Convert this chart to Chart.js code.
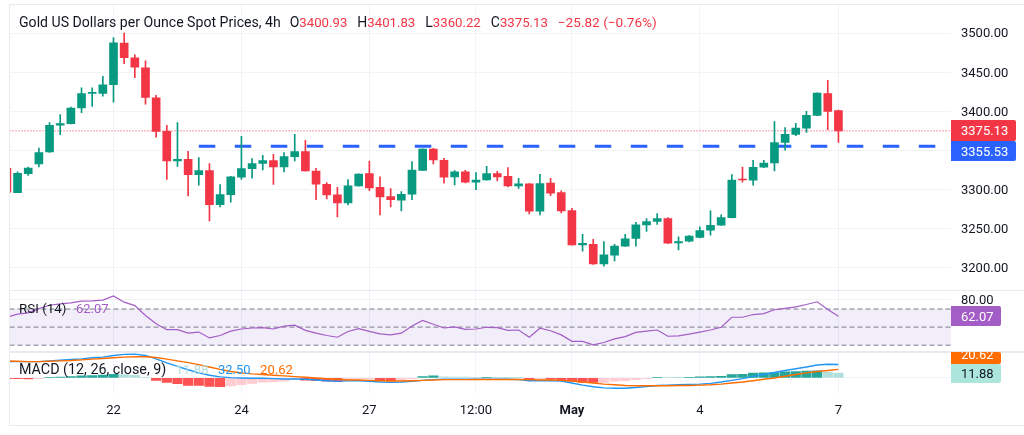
<!DOCTYPE html>
<html>
<head>
<meta charset="utf-8">
<title>Gold spot 4h</title>
<script src="https://cdn.jsdelivr.net/npm/chart.js@4"></script>
<style>
  html, body { margin: 0; padding: 0; background: #fff; }
  #wrap { position: relative; width: 1024px; height: 435px; overflow: hidden; font-family: Roboto, sans-serif; color: #131722; }
  canvas { position: absolute; left: 0; top: 0; }
  .rule { position: absolute; background: #e9e9f0; }
  .legend { position: absolute; left: 19px; font-size: 14px; line-height: 16px; white-space: nowrap; }
  .legend span { margin-left: 9.5px; font-size: 13px; }
  .legend .ohlc { margin-left: 10px; font-size: 14px; }
  .legend b { font-weight: 400; font-size: 13.2px; color: #f23645; }
  .badge { position: absolute; left: 951px; box-sizing: border-box; padding-left: 10px; font-size: 13px; color: #fff; overflow: hidden; border-radius: 0 2px 2px 0; }
</style>
</head>
<body>
<div id="wrap">
  <canvas id="goldChart" width="1024" height="435"></canvas>
  <div class="rule" style="left:9px;top:4px;width:1015px;height:1px"></div>
  <div class="rule" style="left:9px;top:4px;width:1px;height:421px"></div>
  <div class="rule" style="left:9px;top:290px;width:1015px;height:1px"></div>
  <div class="rule" style="left:9px;top:351px;width:1015px;height:2px"></div>
  <div class="rule" style="left:9px;top:425px;width:1015px;height:1px"></div>

  <div class="legend" style="top:14px;font-size:14.1px">Gold US Dollars per Ounce Spot Prices, 4h<span class="ohlc" style="margin-left:9px">O<b>3400.93</b></span><span class="ohlc">H<b>3401.83</b></span><span class="ohlc">L<b>3360.22</b></span><span class="ohlc">C<b>3375.13</b></span><span style="color:#f23645;font-size:13.6px;margin-left:10px">−25.82 (−0.76%)</span></div>
  <div class="legend" style="top:301px;font-size:13.4px">RSI (14)<span style="color:#a45cc6">62.07</span></div>
  <div class="legend" style="top:361px;font-size:14.3px">MACD (12, 26, close, 9)<span style="color:#b2dfdb">11.88</span><span style="color:#2196f3">32.50</span><span style="color:#ff6d00">20.62</span></div>

  <div class="badge" style="top:120px;width:65px;height:21px;line-height:22px;background:#f23645">3375.13</div>
  <div class="badge" style="top:141px;width:65px;height:20px;line-height:21px;background:#2962ff">3355.53</div>
  <div class="badge" style="top:306px;width:50px;height:20px;line-height:21px;background:#a45cc6">62.07</div>
  <div class="badge" style="top:352px;width:50px;height:12px;line-height:5px;background:#ff6d00">20.62</div>
  <div class="badge" style="top:364px;width:50px;height:19px;line-height:20px;background:#ace5dc;color:#131722">11.88</div>
</div>

<script>
// ====== DATA ======
const opens = [3327.3,3296.2,3320.5,3332.8,3348.1,3382.5,3384.3,3404.3,3423,3423,3434.1,3487.2,3468.6,3455.8,3417.5,3374.5,3336.6,3338.8,3319.2,3324.3,3280.9,3293.7,3315.8,3326.9,3333.6,3337.1,3328.9,3342.2,3348.6,3323.8,3306.9,3293.2,3283,3304.7,3320.5,3303,3291.2,3286.4,3294.1,3324.7,3351.9,3337.5,3316.2,3322.6,3309.4,3312.3,3320.5,3317.1,3304.7,3307.3,3272.4,3308.5,3296.3,3273.3,3229.4,3229.9,3205.1,3216.2,3227.7,3237.5,3254.9,3259.2,3263.1,3231.9,3234.1,3238.8,3248.1,3254.5,3264.3,3313.6,3312,3328.6,3334,3360.5,3370.7,3378.7,3394.9,3422.7,3400.93];
const highs = [3327.3,3322.6,3328.9,3353.2,3385.6,3395.8,3405.5,3430.3,3430.3,3444.7,3494.5,3500,3472.4,3464.8,3420.5,3382.2,3385.6,3349,3340.9,3333.3,3306.5,3317.1,3368.1,3339.7,3343.9,3345.2,3347.3,3370.7,3363,3327.3,3309,3303,3312.8,3320.3,3336.6,3316.2,3301.4,3297.5,3335.8,3352.2,3352.8,3340,3324.4,3324.7,3321.8,3329.8,3323.5,3328.2,3314.5,3307.7,3319.6,3314.5,3298.3,3276.2,3243,3236.6,3233.7,3230.2,3243,3258.3,3263.1,3269.4,3264.3,3239.6,3241.4,3252.3,3272.8,3267.7,3319.2,3328.9,3337.5,3337.5,3386.9,3379.2,3384.7,3400,3423.9,3439.6,3401.83];
const lows = [3296.6,3296,3318.3,3328.9,3347.7,3370.3,3384.1,3398.4,3406.4,3419.6,3411.9,3460.9,3443.1,3409.4,3367.2,3312.9,3329.8,3291.9,3305.6,3260,3277.9,3283.9,3313.2,3314.5,3325.1,3306.8,3322.6,3336.6,3323.6,3287.3,3288.1,3265.1,3280.4,3304.4,3298.8,3267.7,3277.9,3272.8,3287.3,3324.5,3332.8,3308.1,3305.9,3308.5,3300.1,3312,3311,3303.4,3301.4,3268.9,3267.7,3292.4,3270.2,3229,3221.3,3204.3,3202.2,3209,3227.4,3227.7,3246.5,3255.4,3231.1,3223,3233.2,3238.3,3241.8,3254.1,3263.8,3309.4,3305.6,3328.2,3323.8,3350.3,3369,3373.2,3394.7,3376.7,3360.22];
const closes = [3296.6,3320.9,3327.7,3347.3,3382.2,3384.3,3404.3,3422.7,3424.3,3434.1,3487.8,3468.6,3456.6,3417.9,3374.5,3336.6,3338.8,3319.2,3324.3,3280.9,3293.7,3316.2,3326.9,3333.3,3337.1,3328.9,3342.2,3348.6,3323.8,3306.9,3293.2,3283,3304.7,3320,3302.1,3290.6,3287.3,3294.1,3325.1,3351.9,3337.9,3315.8,3322.6,3309.4,3312.3,3320.5,3316.2,3304.7,3307.3,3272.4,3307.7,3295.4,3272.8,3229.4,3231.2,3205.1,3216.6,3227.7,3237,3254.9,3259.2,3263.1,3231.5,3233.7,3240.5,3247.7,3254.5,3264.3,3312.3,3312.3,3328.6,3334,3360.1,3370.7,3378.7,3394.9,3423.4,3400,3375.13];
const rsiValues = [60.9,64.3,65.8,70.4,74.2,75.7,76.9,78.8,79.1,79.9,84.5,77.6,73.8,62.8,53.6,47.1,47.1,43.3,44.5,38,40.7,45.6,47.9,49,49.4,47.9,51,52.1,46.4,43.3,40.7,38.8,45.2,48.3,45.2,42.6,41.4,43.3,51.3,57.4,53.2,49,50.2,47.5,47.9,49.8,49.4,46.4,46.8,38.8,48.7,46,41.4,34.2,34.2,30.4,33,36.9,39.5,44.1,45.6,46.8,39.9,40.3,42.2,44.5,46.8,49.8,60.9,60.9,63.9,65,69.2,70.8,72.3,75,78,69.6,62.07];
const macdValues = [39.5,39.5,39.5,39.5,41.2,42.8,44.4,46.1,48.6,50.2,54.3,56.8,57.6,54.3,46.1,36.2,28,19.8,12.3,6.6,2.5,0.8,0,-0.8,-0.8,-1.6,-2.5,-2.5,-3.3,-4.9,-6.6,-8.2,-6.6,-6.6,-8.2,-9.9,-10.7,-9.9,-8.2,-5.8,-4.1,-3.3,-3.3,-3.3,-3.3,-3.3,-3.3,-3.3,-4.1,-6.6,-6.6,-6.6,-7.4,-12.3,-17.3,-21.4,-23.9,-24.7,-24.7,-23,-20.6,-18.1,-17.3,-16.5,-15.6,-14.8,-13.2,-9.9,-5.8,-1.6,3.3,8.2,13.2,18.1,22.2,26.3,31.3,32.9,32.5];
const signalValues = [41.2,40.3,39.5,39.5,40.3,41.2,42,43.6,45.3,46.9,48.6,50.2,51,51,49.4,45.3,41.2,37,32.1,26.3,20.6,15.6,12.3,9.9,8.2,6.6,4.9,3.3,1.6,0,-1.6,-3.3,-4.9,-4.9,-5.8,-6.6,-7.4,-7.4,-6.6,-5.8,-4.9,-4.1,-4.1,-4.1,-3.7,-3.7,-3.7,-3.7,-3.7,-4.1,-4.9,-4.9,-5.8,-7.4,-9.9,-12.3,-14.8,-16.5,-18.1,-18.9,-18.9,-18.9,-18.9,-18.1,-18.1,-17.3,-16.5,-14.8,-12.3,-9.9,-6.6,-3.3,0,4.1,8.2,12.3,15.6,18.1,20.62];
const histValues = [-1.5,-2,-2.3,-1.5,1.5,2,3.5,5,6,7,8.5,8,6.5,1.5,-6,-11,-14,-18,-18.2,-20.6,-20.8,-19,-16.5,-13,-10,-9.8,-8,-4,-5.5,-6.5,-8,-9,-3,-2.5,-2,-6.5,-7,-5.5,-2.5,3,5,2.5,2.3,2.1,1,1.5,0.5,0.3,0.2,-6,-2.5,-3,-6.5,-8,-10.5,-11,-10.5,-8,-6.5,-4,-1.5,1.5,1,0.5,1,2.5,3.3,4,8,8.5,11.5,12.5,13.2,15,15.6,16.5,17,14,11.88];

const timeTickIndex = [10, 22, 34, 44, 53, 65, 78];
const timeTickLabels = ['22', '24', '27', '12:00', 'May', '4', '7'];
const priceTicks = [3200, 3250, 3300, 3350, 3400, 3450, 3500];
const rsiTicks = [80];
const rsiLevels = [70, 50, 30];
const lastClose = 3375.13;
const supportLevel = 3355.53;
const supportStart = 18;

// visible index window of the time axis
const xMin = 0.244;
const xMax = 88.56;

// ====== COLOURS ======
const UP = '#089981', DOWN = '#f23645', RSI_LINE = '#a45cc6', RSI_LEVEL = '#787b86';
const candleColor = closes.map((c, i) => (c >= opens[i] ? UP : DOWN));
const histColor = histValues.map((v, i) => {
  const prev = i ? histValues[i - 1] : 0;
  if (v >= 0) return v >= prev ? '#26a69a' : '#b2dfdb';
  return v <= prev ? '#ff5252' : '#ffcdd2';
});

const toPoints = arr => arr.map((y, x) => ({ x, y }));
const level = (y, from) => [{ x: from, y }, { x: xMax, y }];
// the right axis keeps a fixed width, and no label padding may push the panes down
const fixAxis = s => { s.width = 73; s.paddingTop = 0; s.paddingBottom = 0; };
const priceFont = { family: 'Roboto', size: 13 };

// ====== CHART ======
new Chart(document.getElementById('goldChart'), {
  data: {
    datasets: [
      { type: 'bar', yAxisID: 'y', order: 1, data: opens.map((o, x) => ({ x, y: [o, closes[x]] })), backgroundColor: candleColor, barThickness: 8, minBarLength: 1 },
      { type: 'bar', yAxisID: 'y', order: 2, data: lows.map((l, x) => ({ x, y: [l, highs[x]] })), backgroundColor: candleColor, barThickness: 1 },
      { type: 'line', yAxisID: 'y', order: 5, data: level(lastClose, xMin), borderColor: DOWN, borderWidth: 1, borderDash: [1, 2] },
      { type: 'line', yAxisID: 'y', order: 6, data: level(supportLevel, supportStart), borderColor: '#2962ff', borderWidth: 3, borderDash: [16.5, 19.5] },

      { type: 'line', yAxisID: 'rsi', order: 7, data: level(rsiLevels[0], xMin), borderColor: RSI_LEVEL, borderWidth: 1, borderDash: [5, 3], fill: '+1', backgroundColor: 'rgba(126,87,194,0.1)' },
      { type: 'line', yAxisID: 'rsi', order: 7, data: level(rsiLevels[2], xMin), borderColor: RSI_LEVEL, borderWidth: 1, borderDash: [5, 3] },
      { type: 'line', yAxisID: 'rsi', order: 7, data: level(rsiLevels[1], xMin), borderColor: RSI_LEVEL, borderWidth: 1, borderDash: [5, 3] },
      { type: 'line', yAxisID: 'rsi', order: 3, data: toPoints(rsiValues), borderColor: RSI_LINE, borderWidth: 1.2 },

      { type: 'bar', yAxisID: 'macd', order: 4, data: toPoints(histValues), backgroundColor: histColor, barThickness: 9.5 },
      { type: 'line', yAxisID: 'macd', order: 3, data: toPoints(macdValues), borderColor: '#2196f3', borderWidth: 1.4 },
      { type: 'line', yAxisID: 'macd', order: 2, data: toPoints(signalValues), borderColor: '#ff6d00', borderWidth: 1.4 }
    ]
  },
  options: {
    responsive: false,
    animation: false,
    events: [],
    devicePixelRatio: 1,
    layout: { autoPadding: false, padding: { left: 9.5, top: 5.5, right: 0, bottom: 10 } },
    elements: { point: { radius: 0 }, line: { tension: 0 } },
    datasets: { bar: { grouped: false } },
    plugins: { legend: { display: false }, tooltip: { enabled: false } },
    scales: {
      x: {
        type: 'linear',
        offset: false,
        min: xMin,
        max: xMax,
        afterBuildTicks: s => { s.ticks = timeTickIndex.map(value => ({ value })); },
        afterFit: s => { s.height = 32.3; s.paddingLeft = 0; s.paddingRight = 0; },
        grid: { offset: false, color: '#f0f3fa', drawTicks: false },
        border: { display: false },
        ticks: {
          autoSkip: false,
          maxRotation: 0,
          padding: 10,
          color: '#131722',
          font: ctx => ({ family: 'Roboto', size: 13, weight: ctx.tick && ctx.tick.value === 53 ? 'bold' : 'normal' }),
          callback: v => timeTickLabels[timeTickIndex.indexOf(v)]
        }
      },
      y: {
        position: 'right',
        stack: 'panes',
        stackWeight: 285,
        min: 3171.5,
        max: 3535.4,
        afterBuildTicks: s => { s.ticks = priceTicks.map(value => ({ value })); },
        afterFit: fixAxis,
        grid: { color: '#f3f3f6', drawTicks: false },
        border: { display: false },
        ticks: { padding: 10, labelOffset: 1, color: '#131722', font: priceFont, callback: v => v.toFixed(2) }
      },
      rsi: {
        position: 'right',
        stack: 'panes',
        stackWeight: 61,
        min: 23.5,
        max: 90.9,
        afterBuildTicks: s => { s.ticks = rsiTicks.map(value => ({ value })); },
        afterFit: fixAxis,
        grid: { color: '#f3f3f6', drawTicks: false },
        border: { display: false },
        ticks: { padding: 10, labelOffset: 1, color: '#131722', font: priceFont, callback: v => v.toFixed(2) }
      },
      macd: {
        position: 'right',
        stack: 'panes',
        stackWeight: 41.7,
        min: -35.6,
        max: 64.9,
        afterBuildTicks: s => { s.ticks = [{ value: 0 }]; },
        afterFit: fixAxis,
        grid: { color: '#f0f3fa', drawTicks: false },
        border: { display: false },
        ticks: { callback: () => '' }
      }
    }
  }
});
</script>
</body>
</html>
